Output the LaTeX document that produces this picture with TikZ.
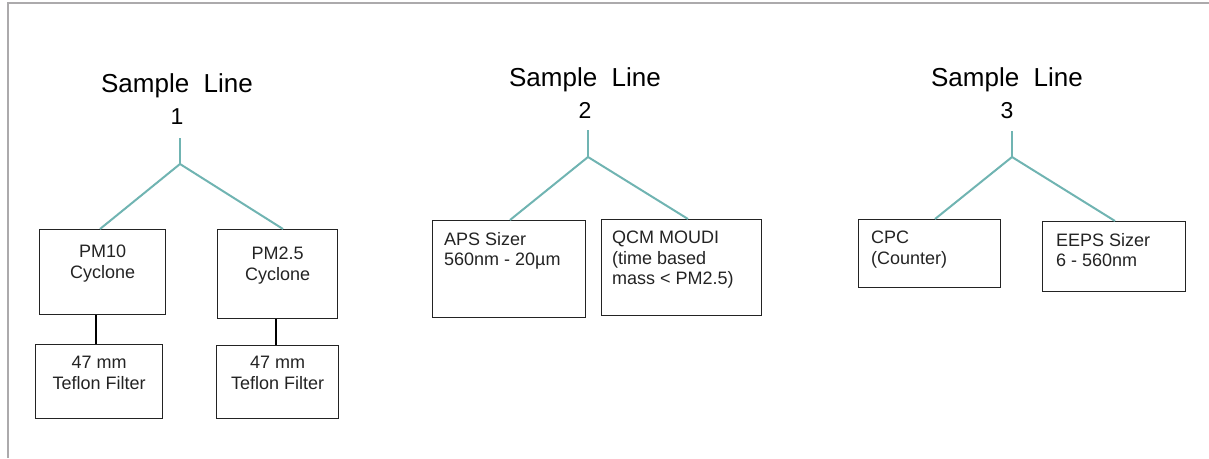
\documentclass[tikz,border=0pt]{standalone}
\usepackage{fontspec}
\setmainfont{Liberation Sans}
\usetikzlibrary{calc}
\definecolor{teal1}{RGB}{112,180,178}
\definecolor{frame1}{RGB}{172,170,172}
\definecolor{ink}{RGB}{35,35,35}
\begin{document}
\begin{tikzpicture}[x=1pt,y=-1pt,
  titlenode/.style={align=center,inner sep=0pt,anchor=north,font=\fontsize{26}{32}\selectfont},
  boxnode/.style={draw=ink,line width=1.2pt,inner sep=0pt,anchor=north west},
  btxt/.style={inner sep=0pt,font=\fontsize{18}{20.5}\selectfont,text=ink},
  ctxt/.style={btxt,align=center,anchor=north},
  ltxt/.style={btxt,align=left,anchor=north west},
  branch/.style={draw=teal1,line width=2pt},
  link/.style={draw=black,line width=2.5pt}]
\useasboundingbox (0,0) rectangle (1209,458);
% frame
\coordinate (fa) at (8,458);
\coordinate (fb) at (8,3);
\coordinate (fc) at (1209,3);
\draw[frame1,line width=2pt] (fa) -- (fb) -- (fc);

% ---------- panel 1 ----------
\node[titlenode] (t1) at (177,73) {Sample\ \ Line\\{\fontsize{23}{32}\selectfont 1}};
\coordinate (s1) at (180,138);
\coordinate (f1) at (180,164);
\node[boxnode,minimum width=126pt,minimum height=85pt] (pm10) at (39,229) {};
\node[boxnode,minimum width=120pt,minimum height=89pt] (pm25) at (217,229) {};
\node[boxnode,minimum width=127pt,minimum height=74pt] (flt1) at (35,344) {};
\node[boxnode,minimum width=122pt,minimum height=73pt] (flt2) at (216,345) {};
\node[ctxt] (pm10t) at ($(pm10.north)+(0,16)$) {PM10\\Cyclone};
\node[ctxt] (pm25t) at ($(pm25.north)+(0,18)$) {PM2.5\\Cyclone};
\node[ctxt] (flt1t) at ($(flt1.north)+(0,12)$) {47 mm\\Teflon Filter};
\node[ctxt] (flt2t) at ($(flt2.north)+(0,11)$) {47 mm\\Teflon Filter};
\coordinate (a1) at (100,229);
\coordinate (b1) at (283,229);
\draw[branch] (s1) -- (f1);
\draw[branch] (a1) -- (f1) -- (b1);
\draw[link] (pm10.south -| 96,0) -- (flt1.north -| 96,0);
\draw[link] (pm25.south -| 276,0) -- (flt2.north -| 276,0);

% ---------- panel 2 ----------
\node[titlenode] (t2) at (585,67) {Sample\ \ Line\\{\fontsize{23}{32}\selectfont 2}};
\coordinate (s2) at (588,130);
\coordinate (f2) at (588,157);
\node[boxnode,minimum width=153pt,minimum height=97pt] (aps) at (432,220) {};
\node[boxnode,minimum width=160pt,minimum height=96pt] (qcm) at (601,219) {};
\node[ltxt] (apst) at ($(aps.north west)+(12,12)$) {APS Sizer\\560nm - 20µm};
\node[ltxt] (qcmt) at ($(qcm.north west)+(11,12)$) {QCM MOUDI\\(time based\\mass < PM2.5)};
\coordinate (a2) at (510,220);
\coordinate (b2) at (688,219);
\draw[branch] (s2) -- (f2);
\draw[branch] (a2) -- (f2) -- (b2);

% ---------- panel 3 ----------
\node[titlenode] (t3) at (1007,67) {Sample\ \ Line\\{\fontsize{23}{32}\selectfont 3}};
\coordinate (s3) at (1012,131);
\coordinate (f3) at (1012,157);
\node[boxnode,minimum width=142pt,minimum height=68pt] (cpc) at (858,219) {};
\node[boxnode,minimum width=143pt,minimum height=70pt] (eeps) at (1042,221) {};
\node[ltxt] (cpct) at ($(cpc.north west)+(13,12)$) {CPC\\(Counter)};
\node[ltxt] (eepst) at ($(eeps.north west)+(14,12)$) {EEPS Sizer\\6 - 560nm};
\coordinate (a3) at (935,219);
\coordinate (b3) at (1115,221);
\draw[branch] (s3) -- (f3);
\draw[branch] (a3) -- (f3) -- (b3);
\end{tikzpicture}
\end{document}
